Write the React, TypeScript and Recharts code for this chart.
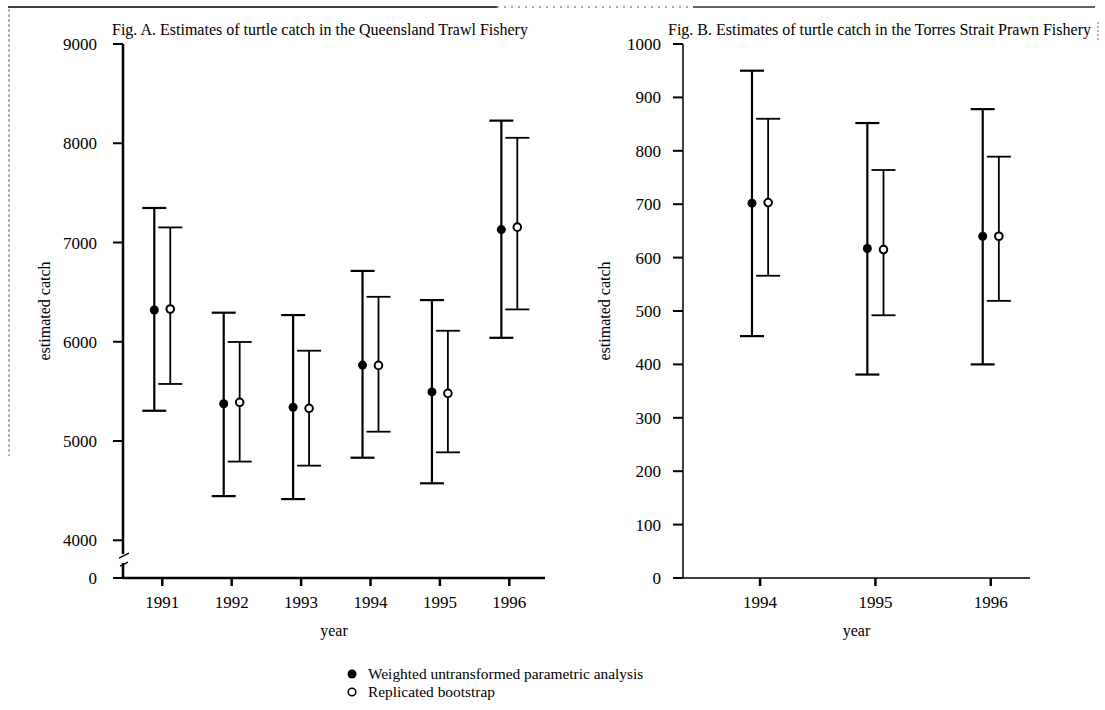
import React from "react";
import { ScatterChart, Scatter, XAxis, YAxis, ErrorBar, ReferenceDot } from "recharts";

// Fig. A: Queensland Trawl Fishery, 1991-1996
const yearsA = [1991, 1992, 1993, 1994, 1995, 1996];
const parametricA = [6320, 5375, 5340, 5765, 5495, 7130];
const parametricLowA = [5305, 4445, 4415, 4832, 4574, 6040];
const parametricHighA = [7348, 6293, 6269, 6714, 6420, 8228];
const bootstrapA = [6330, 5390, 5330, 5762, 5480, 7155];
const bootstrapLowA = [5575, 4793, 4752, 5094, 4886, 6326];
const bootstrapHighA = [7152, 5998, 5910, 6453, 6111, 8055];
const yTicksA = [4000, 5000, 6000, 7000, 8000, 9000];

// Fig. B: Torres Strait Prawn Fishery, 1994-1996
const yearsB = [1994, 1995, 1996];
const parametricB = [702, 617, 640];
const parametricLowB = [453, 381, 400];
const parametricHighB = [950, 852, 878];
const bootstrapB = [703, 615, 640];
const bootstrapLowB = [566, 492, 519];
const bootstrapHighB = [860, 764, 789];
const yTicksB = [0, 100, 200, 300, 400, 500, 600, 700, 800, 900, 1000];

// the broken axis in Fig. A squeezes 0..4000 into a short stub
const AXIS_ZERO_A = 3620;
const BREAK_A = (AXIS_ZERO_A + 4000) / 2;

type Row = { x: number; y: number; err: [number, number] };

const toRows = (years: number[], mid: number[], lo: number[], hi: number[], shift: number): Row[] =>
  years.map((yr, i) => ({ x: yr + shift, y: mid[i], err: [mid[i] - lo[i], hi[i] - mid[i]] }));

const FilledDot = (props: any) => <circle cx={props.cx} cy={props.cy} r={4.5} fill="#000" />;
const OpenDot = (props: any) => (
  <circle cx={props.cx} cy={props.cy} r={3.8} fill="#fff" stroke="#000" strokeWidth={2} />
);

const AxisBreak = (props: any) => {
  const { cx, cy } = props;
  return (
    <g stroke="#000" strokeWidth={1.5}>
      <rect x={cx - 3} y={cy - 5} width={6} height={9} fill="#fff" stroke="none" />
      <line x1={cx - 4} y1={cy - 1} x2={cx + 6} y2={cy - 6} />
      <line x1={cx - 3} y1={cy + 7} x2={cx + 5} y2={cy + 3} />
    </g>
  );
};

interface PanelProps {
  left: number;
  width: number;
  marginRight: number;
  xDomain: [number, number];
  xTicks: number[];
  yDomain: [number, number];
  yTicks: number[];
  yFormat: (v: number) => string;
  yTickGap: number;
  parametric: Row[];
  bootstrap: Row[];
  lineWidth: number;
  breakAt?: number;
}

const Panel = (p: PanelProps) => (
  <div style={{ position: "absolute", left: p.left, top: 0 }}>
    <ScatterChart width={p.width} height={660} margin={{ top: 44, right: p.marginRight, bottom: 22, left: 0 }}>
      <XAxis
        type="number"
        dataKey="x"
        domain={p.xDomain}
        ticks={p.xTicks}
        allowDataOverflow
        interval={0}
        height={60}
        tickSize={8}
        tickMargin={10}
        axisLine={{ stroke: "#000", strokeWidth: p.lineWidth }}
        tickLine={{ stroke: "#000", strokeWidth: 2.5 }}
        tick={{ fill: "#000", fontSize: 17 }}
        label={{ value: "year", position: "insideBottom", offset: 2, fill: "#000", fontSize: 16 }}
      />
      <YAxis
        type="number"
        dataKey="y"
        domain={p.yDomain}
        ticks={p.yTicks}
        allowDataOverflow
        interval={0}
        width={123}
        tickSize={10}
        tickMargin={p.yTickGap}
        tickFormatter={p.yFormat}
        axisLine={{ stroke: "#000", strokeWidth: p.lineWidth }}
        tickLine={{ stroke: "#000", strokeWidth: 2 }}
        tick={{ fill: "#000", fontSize: 17 }}
        label={{
          value: "estimated catch",
          angle: -90,
          position: "insideLeft",
          offset: 44,
          fill: "#000",
          fontSize: 16,
          style: { textAnchor: "middle" },
        }}
      />
      <Scatter data={p.parametric} shape={FilledDot} isAnimationActive={false}>
        <ErrorBar dataKey="err" direction="y" width={12} stroke="#000" strokeWidth={2.2} isAnimationActive={false} />
      </Scatter>
      <Scatter data={p.bootstrap} shape={OpenDot} isAnimationActive={false}>
        <ErrorBar dataKey="err" direction="y" width={12} stroke="#000" strokeWidth={1.8} isAnimationActive={false} />
      </Scatter>
      {p.breakAt !== undefined && (
        <ReferenceDot x={p.xDomain[0]} y={p.breakAt} shape={AxisBreak} ifOverflow="visible" />
      )}
    </ScatterChart>
  </div>
);

export default function App() {
  const shiftA = 0.115;
  const shiftB = 0.07;
  return (
    <div
      style={{
        position: "absolute",
        left: 0,
        top: 0,
        width: 1105,
        height: 710,
        background: "#fff",
        fontFamily: "'Liberation Serif', 'Times New Roman', serif",
        color: "#000",
      }}
    >
      <Panel
        left={0}
        width={560}
        marginRight={15}
        xDomain={[1990.434, 1996.514]}
        xTicks={yearsA}
        yDomain={[AXIS_ZERO_A, 9000]}
        yTicks={[AXIS_ZERO_A, ...yTicksA]}
        yFormat={(v) => (v === AXIS_ZERO_A ? "0" : String(v))}
        yTickGap={16}
        parametric={toRows(yearsA, parametricA, parametricLowA, parametricHighA, -shiftA)}
        bootstrap={toRows(yearsA, bootstrapA, bootstrapLowA, bootstrapHighA, shiftA)}
        lineWidth={2.5}
        breakAt={BREAK_A}
      />
      <Panel
        left={560}
        width={545}
        marginRight={75}
        xDomain={[1993.332, 1996.34]}
        xTicks={yearsB}
        yDomain={[0, 1000]}
        yTicks={yTicksB}
        yFormat={(v) => String(v)}
        yTickGap={12}
        parametric={toRows(yearsB, parametricB, parametricLowB, parametricHighB, -shiftB)}
        bootstrap={toRows(yearsB, bootstrapB, bootstrapLowB, bootstrapHighB, shiftB)}
        lineWidth={1.5}
      />
      <svg
        width={1105}
        height={710}
        style={{ position: "absolute", left: 0, top: 0, pointerEvents: "none" }}
      >
        {/* page frame */}
        <line x1={8} y1={7} x2={497} y2={7} stroke="#000" strokeWidth={1.5} />
        <line x1={497} y1={7} x2={693} y2={7} stroke="#555" strokeWidth={1} strokeDasharray="2 5" />
        <line x1={693} y1={7} x2={1095} y2={7} stroke="#333" strokeWidth={1.5} />
        <line x1={9} y1={9} x2={9} y2={456} stroke="#666" strokeWidth={1} strokeDasharray="3 2" />
        <line x1={1098} y1={22} x2={1098} y2={40} stroke="#666" strokeWidth={1} strokeDasharray="2 2" />

        <text x={112} y={35} fontSize={16}>
          Fig. A. Estimates of turtle catch in the Queensland Trawl Fishery
        </text>
        <text x={668} y={35} fontSize={16}>
          Fig. B. Estimates of turtle catch in the Torres Strait Prawn Fishery
        </text>

        {/* legend */}
        <circle cx={352} cy={674} r={4.5} fill="#000" />
        <text x={368} y={679} fontSize={15.4}>
          Weighted untransformed parametric analysis
        </text>
        <circle cx={352} cy={692} r={3.8} fill="#fff" stroke="#000" strokeWidth={1.5} />
        <text x={368} y={697} fontSize={15.4}>
          Replicated bootstrap
        </text>
      </svg>
    </div>
  );
}
